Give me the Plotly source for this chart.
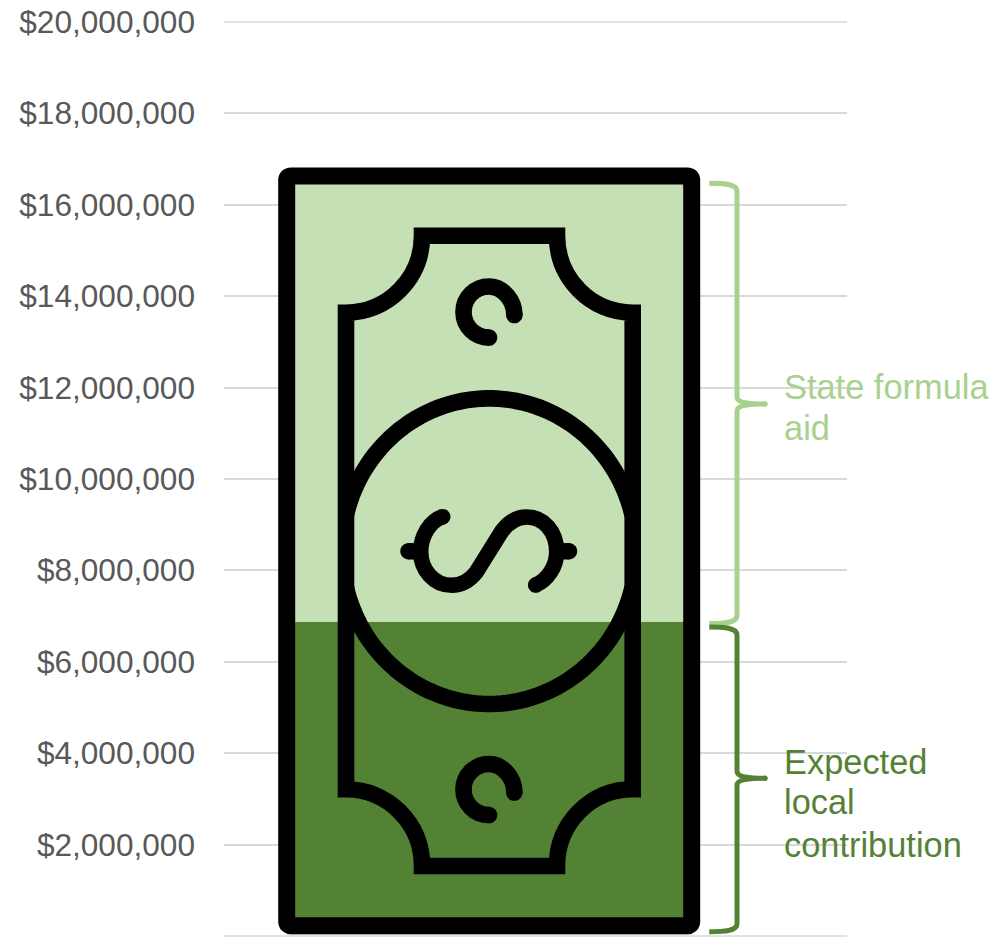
import re
import numpy as np
import plotly.graph_objects as go

# ---- data ----
categories = ["School funding"]
local_contribution = [6880000]
state_formula_aid = [9750000]
tick_values = [0, 2000000, 4000000, 6000000, 8000000, 10000000, 12000000, 14000000, 16000000, 18000000, 20000000]
tick_labels = ["$0", "$2,000,000", "$4,000,000", "$6,000,000", "$8,000,000", "$10,000,000",
               "$12,000,000", "$14,000,000", "$16,000,000", "$18,000,000", "$20,000,000"]
state_label_lines = ["State formula", "aid"]
local_label_lines = ["Expected", "local", "contribution"]

# ---- styling / page geometry ----
W, H = 997, 949
L, R, T, B = 224, 847, 22, 936
LIGHT, DARK = "#C5E0B4", "#548235"
BR_LIGHT, BR_DARK = "#A9D18E", "#548235"
GRID, TXT = "#D9D9D9", "#595959"
FONT = "Liberation Sans"


def px(x):
    return (x - L) / (R - L)


def py(y):
    return (B - y) / (B - T)


def path(d):
    """Convert a pixel-space SVG path string to paper-space."""
    out, is_x = [], True
    for tok in re.findall(r"[A-Za-z]|-?\d+\.?\d*", d):
        if tok.isalpha():
            out.append(tok)
            is_x = True
        else:
            out.append(f"{px(float(tok)) if is_x else py(float(tok)):.6f}")
            is_x = not is_x
    res = ""
    for t in out:
        res += t if t.isalpha() else t + " "
    return res.strip()


shapes = []


def stroke(d, width=16.6, color="black"):
    shapes.append(dict(type="path", xref="paper", yref="paper", path=path(d),
                       line=dict(color=color, width=width), layer="above"))


def dot(cx, cy, r, color="black"):
    k = 0.5523 * r
    d = (f"M{cx-r} {cy} C{cx-r} {cy-k} {cx-k} {cy-r} {cx} {cy-r} "
         f"C{cx+k} {cy-r} {cx+r} {cy-k} {cx+r} {cy} "
         f"C{cx+r} {cy+k} {cx+k} {cy+r} {cx} {cy+r} "
         f"C{cx-k} {cy+r} {cx-r} {cy+k} {cx-r} {cy} Z")
    shapes.append(dict(type="path", xref="paper", yref="paper", path=path(d),
                       fillcolor=color, line=dict(width=0), layer="above"))


# top grid line, white strip + base line under the note picture
shapes.append(dict(type="line", xref="paper", yref="paper", x0=px(224), x1=px(847), y0=py(22), y1=py(22),
                   line=dict(color=GRID, width=1.5), layer="below"))
shapes.append(dict(type="rect", xref="paper", yref="paper", x0=px(280), x1=px(700), y0=py(937), y1=py(934.2),
                   fillcolor="white", line=dict(width=0), layer="above"))
shapes.append(dict(type="line", xref="paper", yref="paper", x0=px(224), x1=px(847), y0=py(936), y1=py(936),
                   line=dict(color=GRID, width=1.5), layer="above"))

# outer note
x0, x1, y0, y1, r = 286.7, 691.7, 176, 925.7, 4.5
stroke(f"M{x0+r} {y0} L{x1-r} {y0} Q{x1} {y0} {x1} {y0+r} L{x1} {y1-r} Q{x1} {y1} {x1-r} {y1} "
       f"L{x0+r} {y1} Q{x0} {y1} {x0} {y1-r} L{x0} {y0+r} Q{x0} {y0} {x0+r} {y0} Z", width=17)

# inner frame with concave corners
fl, fr, ft, fb = 346, 632.7, 235.7, 866
tx0, tx1 = 422, 557
ly0, ly1 = 312.7, 789.3
kx, ky = 0.5523 * (tx0 - fl), 0.5523 * (ly0 - ft)
stroke(f"M{tx0} {ft} L{tx1} {ft} "
       f"C{tx1} {ft+ky} {fr-kx} {ly0} {fr} {ly0} "
       f"L{fr} {ly1} "
       f"C{fr-kx} {ly1} {tx1} {fb-ky} {tx1} {fb} "
       f"L{tx0} {fb} "
       f"C{tx0} {fb-ky} {fl+kx} {ly1} {fl} {ly1} "
       f"L{fl} {ly0} "
       f"C{fl+kx} {ly0} {tx0} {ft+ky} {tx0} {ft} Z")

# central medallion, clipped at the frame
ecx, ecy, ea, eb = 489.2, 551.2, 147.5, 152.8
tmax = np.arccos(143.2 / ea)
for sign in (-1, 1):
    ts = np.linspace(tmax, np.pi - tmax, 80)
    pts = [(ecx + ea * np.cos(t), ecy + sign * eb * np.sin(t)) for t in ts]
    stroke("M" + " L".join(f"{a:.2f} {b:.2f}" for a, b in pts))


# small C glyphs
def c_glyph(cx, cy, rad=25.5, w=16.6):
    k = 0.5523 * rad
    sx, sy = cx, cy + rad
    ex, ey = cx + rad * 0.993, cy + rad * 0.12
    stroke(f"M{sx} {sy} C{cx-k} {cy+rad} {cx-rad} {cy+k} {cx-rad} {cy} "
           f"C{cx-rad} {cy-k} {cx-k} {cy-rad} {cx} {cy-rad} "
           f"C{cx+k} {cy-rad} {cx+rad} {cy-k+3} {ex} {ey}", width=w)
    dot(sx, sy, w / 2)
    dot(ex, ey, w / 2)


c_glyph(489, 312)
c_glyph(489, 789.5)

# S of the dollar sign
stroke("M442.7 516.7 C430 521 420.7 536 420.7 551.7 C420.7 570 434 585.3 451.7 585.3 "
       "C463 585.3 470 580 476 572.5 L502 531 C508 523 515 517 526.7 517 "
       "C544 517 556.7 532 556.7 551.7 C556.7 567 547 580 535.7 585", width=15.5)
dot(442.7, 516.7, 7.8)
dot(535.7, 585, 7.8)
stroke("M408.5 551.3 L422 551.3", width=16.4)
stroke("M556 551.3 L569 551.3", width=16.4)
dot(408.5, 551.3, 8.2)
dot(569, 551.3, 8.2)


# braces
def brace(top, mid, bottom, color):
    vx, sx, tip = 737, 709.3, 765
    stroke(f"M{sx} {top} C726 {top} 737 {top+1} 737 {top+8} L{vx} {mid-7} "
           f"C737 {mid-2} 745 {mid} {tip} {mid} C745 {mid} 737 {mid+2} 737 {mid+7} "
           f"L{vx} {bottom-8} C737 {bottom-1} 726 {bottom} {sx} {bottom}", width=5, color=color)
    dot(tip, mid, 2.8, color)


brace(183.3, 404, 623.6, BR_LIGHT)
brace(627, 778.3, 931.7, BR_DARK)

# ---- figure ----
fig = go.Figure()
fig.add_trace(go.Bar(x=categories, y=local_contribution, name="Expected local contribution",
                     marker=dict(color=DARK, line=dict(width=0)), width=1))
fig.add_trace(go.Bar(x=categories, y=state_formula_aid, name="State formula aid",
                     marker=dict(color=LIGHT, line=dict(width=0)), width=1))

annotations = []
for lines, baselines, color in ((state_label_lines, [396, 437], BR_LIGHT),
                                (local_label_lines, [771, 811, 854], BR_DARK)):
    for text, base in zip(lines, baselines):
        annotations.append(dict(text=text, xref="paper", yref="paper", x=px(784), y=py(base + 9.5),
                                xanchor="left", yanchor="bottom", showarrow=False,
                                font=dict(family=FONT, size=34.4, color=color),
                                borderpad=0, borderwidth=0))

fig.update_layout(
    width=W, height=H, autosize=False, barmode="stack", showlegend=False,
    margin=dict(l=L, r=W - R, t=T, b=H - B, pad=0, autoexpand=False),
    paper_bgcolor="white", plot_bgcolor="white",
    font=dict(family=FONT, color=TXT),
    xaxis=dict(type="category", range=[-0.6548, 0.8835], showticklabels=False, ticks="",
               showgrid=False, zeroline=False, showline=False, fixedrange=True, automargin=False),
    yaxis=dict(range=[0, 20000000], tickmode="array", tickvals=tick_values, ticktext=tick_labels,
               tickfont=dict(family=FONT, size=31.6, color=TXT), automargin=False,
               showgrid=True, gridcolor=GRID, gridwidth=1.5, zeroline=False, showline=False,
               ticks="", ticklabelstandoff=28, fixedrange=True),
    shapes=shapes, annotations=annotations,
)

fig.write_html("out.html", config=dict(displayModeBar=False),
               post_script="document.body.style.margin='0';document.body.style.overflow='hidden';")
